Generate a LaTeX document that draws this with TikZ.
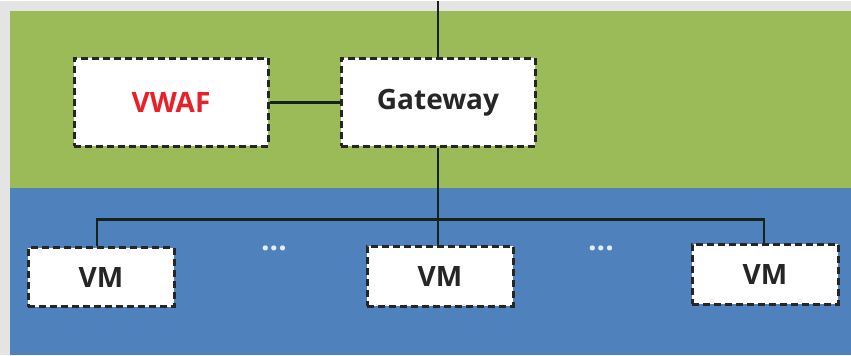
\documentclass[tikz,border=0pt]{standalone}
\usepackage{fontspec}
\setmainfont{Open Sans}
\definecolor{paper}{HTML}{E4E4E4}
\definecolor{zonegreen}{HTML}{9BBB59}
\definecolor{zoneblue}{HTML}{4F81BD}
\definecolor{wafred}{HTML}{E8202A}
\definecolor{wire}{HTML}{14241A}
\begin{document}
\begin{tikzpicture}[x=1pt,y=-1pt,
  unit/.style={draw=black!85, fill=white, line width=3pt,
    dash pattern=on 7pt off 4pt, minimum width=#1, inner sep=0pt,
    font=\bfseries\fontsize{28}{30}\selectfont, text=black!85},
  unit/.default=194pt,
  link/.style={draw=wire, line width=2.6pt},
  dots/.style={text=white!85!zoneblue, font=\bfseries\fontsize{30}{32}\selectfont}]
  % page and the two zones
  \fill[paper] (0,0) rectangle (851,354);
  \fill[zonegreen] (10,10) rectangle (851,187);
  \fill[zoneblue] (10,187) rectangle (851,354);

  % upper zone
  \node[unit, minimum height=88pt, text=wafred] (waf) at (171,101) {VWAF};
  \node[unit, minimum height=88pt] (gw) at (438,101) {Gateway};
  \coordinate (uplink) at (438,0);

  % lower zone
  \node[unit=146pt, minimum height=59pt] (vm1) at (101,276) {VM};
  \node[unit=146pt, minimum height=60pt] (vm2) at (440,275) {VM};
  \node[unit=146pt, minimum height=60pt] (vm3) at (765,273) {VM};
  \node[dots] (d1) at (274,247) {...};
  \node[dots] (d2) at (601,247) {...};
  \coordinate (bus) at (438,218);

  % connectors
  \draw[link] (uplink) -- (gw.north);
  \draw[link] (waf.east) -- (gw.west);
  \draw[link] (gw.south) -- (bus);
  \draw[link] (vm1.north -| 97,0) |- (bus) -| (vm3.north -| 764,0);
  \draw[link] (bus) -- (vm2.north -| bus);
\end{tikzpicture}
\end{document}
